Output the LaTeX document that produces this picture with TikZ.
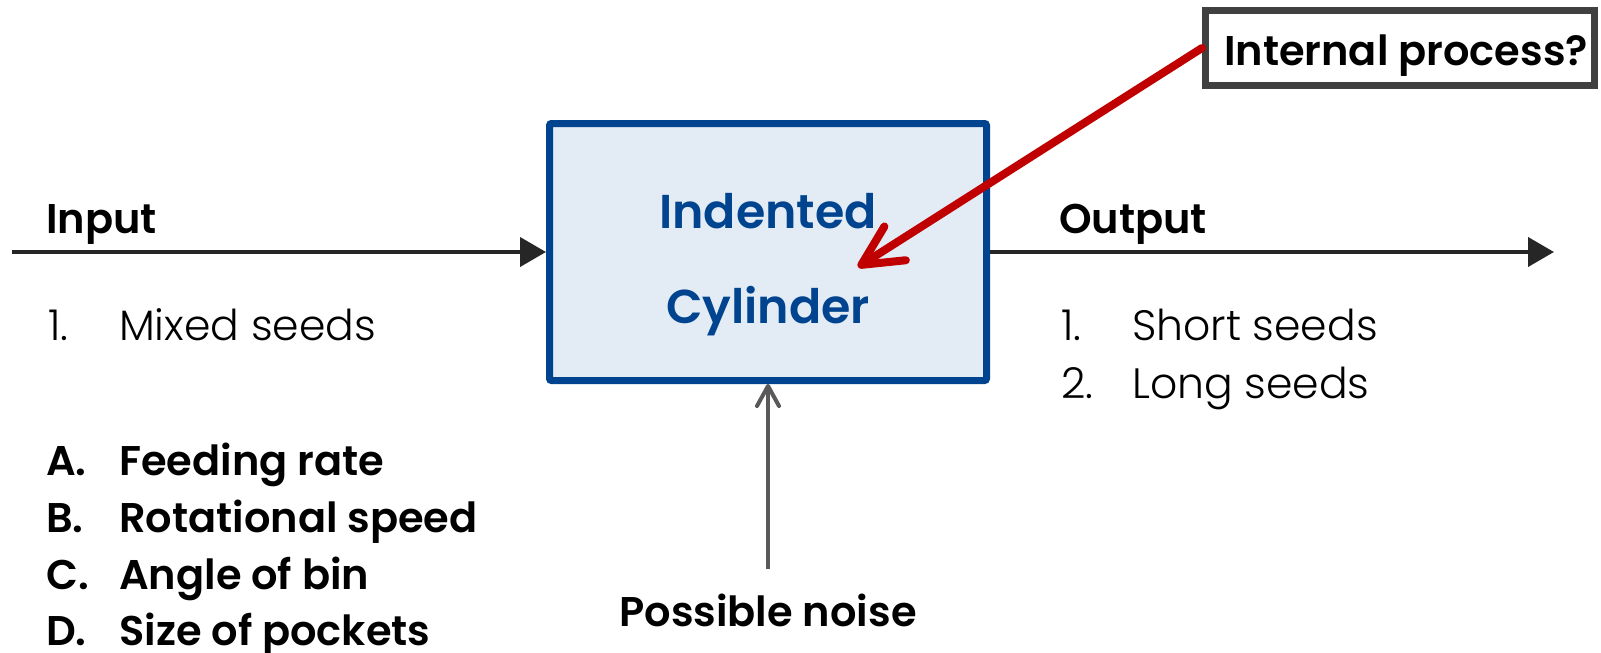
\documentclass[tikz,border=0pt]{standalone}
\usepackage{fontspec}
\newfontfamily\popsemi{Poppins SemiBold}
\newfontfamily\poplight{Poppins Light}
\usetikzlibrary{arrows.meta}
\definecolor{cyl-blue}{RGB}{0,68,143}
\definecolor{cyl-fill}{RGB}{227,235,245}
\definecolor{arrow-red}{RGB}{192,0,0}
\definecolor{noise-grey}{RGB}{89,89,89}
\definecolor{line-black}{RGB}{38,38,38}
\definecolor{frame-grey}{RGB}{64,64,64}

\begin{document}
\begin{tikzpicture}[x=1pt,y=-1pt,
    headtext/.style={inner sep=0pt, anchor=base west, font=\popsemi\fontsize{41.5}{48}\selectfont},
    lighttext/.style={inner sep=0pt, anchor=base west, font=\poplight\fontsize{42.5}{48}\selectfont},
    cyltext/.style={inner sep=0pt, anchor=base, text=cyl-blue, font=\popsemi\fontsize{47.5}{56}\selectfont},
    flow/.style={draw=line-black, line width=4pt, -{Triangle[length=26pt,width=29pt]}},
    noiseflow/.style={draw=noise-grey, line width=4pt, -{Straight Barb[length=20pt,width=22pt,round]}},
    redflow/.style={draw=arrow-red, line width=8pt, line cap=round, -{Straight Barb[length=40pt,width=40pt,round]}}]
\useasboundingbox (0,0) rectangle (1601,653);

% the cylinder
\node[draw=cyl-blue, fill=cyl-fill, line width=7pt, rounded corners=2pt,
      minimum width=437pt, minimum height=257pt] (cyl) at (768,252) {};
\node[cyltext] (cylA) at (768,228) {Indented};
\node[cyltext] (cylB) at (768,323) {Cylinder};

% input side
\coordinate (instart) at (12,252);
\draw[flow] (instart) -- (cyl.west);
\node[headtext] (inlab) at (46,233) {Input};
\node[lighttext] (in1) at (48,340) {\makebox[71pt][l]{1.}Mixed seeds};
\node[headtext] (parA) at (46,475) {\makebox[73pt][l]{A.}Feeding rate};
\node[headtext] (parB) at (46,532) {\makebox[73pt][l]{B.}Rotational speed};
\node[headtext] (parC) at (46,589) {\makebox[73pt][l]{C.}Angle of bin};
\node[headtext] (parD) at (46,645) {\makebox[73pt][l]{D.}Size of pockets};

% output side
\coordinate (outend) at (1554,252);
\draw[flow] (cyl.east) -- (outend);
\node[headtext] (outlab) at (1059,233) {Output};
\node[lighttext] (out1) at (1061,340) {\makebox[71pt][l]{1.}Short seeds};
\node[lighttext] (out2) at (1061,398) {\makebox[71pt][l]{2.}Long seeds};

% noise
\coordinate (nz) at (768,569);
\draw[noiseflow] (nz) -- (cyl.south);
\node[headtext, anchor=base] (noise) at (768,626) {Possible noise};

% internal process
\node[draw=frame-grey, fill=white, line width=7pt, minimum width=389pt,
      minimum height=75pt] (ip) at (1400,48) {};
\node[headtext, anchor=base] (iplab) at (1406,65) {Internal process?};
\coordinate (tip) at (858,267);
\draw[redflow] (ip.west) -- (tip);
\end{tikzpicture}
\end{document}
